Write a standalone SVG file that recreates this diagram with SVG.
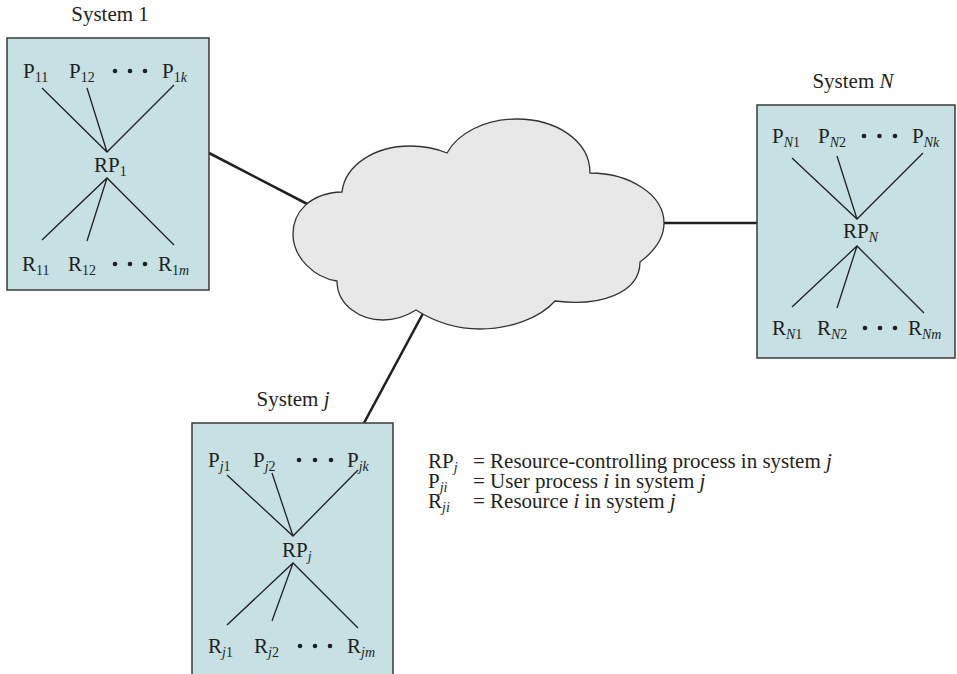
<svg xmlns="http://www.w3.org/2000/svg" width="957" height="674" viewBox="0 0 957 674">
<style>
.t { font-family: "Liberation Serif", "Times New Roman", serif; font-size: 21px; fill: #231f20; }
.sub { font-size: 14px; }
.it { font-style: italic; }
.box { fill: #c6e0e3; stroke: #3a3a3a; stroke-width: 1.5; }
.ln { stroke: #231f20; stroke-width: 1.3; fill: none; }
.conn { stroke: #231f20; stroke-width: 2.6; fill: none; }
.cloud { fill: #e8e8e8; stroke: #333333; stroke-width: 1.3; }
.dot { fill: #231f20; }
</style>
<rect width="957" height="674" fill="#ffffff"/>
<g id="connectors">
  <line class="conn" x1="209" y1="153" x2="315" y2="208"/>
  <line class="conn" x1="655" y1="223" x2="757" y2="223"/>
  <line class="conn" x1="427" y1="306" x2="364" y2="423"/>
</g>
<g id="network">
  <path class="cloud" d="M342,192 C310,193 293,212 293,234 C293,258 315,278 337,281 C337,305 360,320 383,320 C398,320 408,315 416,310 C435,322 458,329 480,329 C510,329 540,318 555,301 C600,307 640,293 640,262 C656,250 664,236 664,223 C664,195 630,173 590,173 C590,140 555,119 517,119 C485,119 458,133 447,153 C435,148 422,146 410,146 C375,146 345,165 342,192 Z"/>
</g>
<g id="system1">
  <text class="t" x="110" y="21" text-anchor="middle">System 1</text>
  <rect class="box" x="7" y="38" width="202" height="252"/>
  <text class="t" x="23" y="78">P<tspan class="sub" dy="4">11</tspan></text>
  <text class="t" x="69" y="78">P<tspan class="sub" dy="4">12</tspan></text>
  <circle class="dot" cx="115" cy="71" r="2.3"/><circle class="dot" cx="130" cy="71" r="2.3"/><circle class="dot" cx="145" cy="71" r="2.3"/>
  <text class="t" x="162" y="78">P<tspan class="sub" dy="4">1<tspan class="it">k</tspan></tspan></text>
  <path class="ln" d="M42,88 L107,152 L174,85 M87,88 L107,152"/>
  <text class="t" x="94" y="172">RP<tspan class="sub" dy="4">1</tspan></text>
  <path class="ln" d="M42,240 L107,178 L174,245 M87,241 L107,178"/>
  <text class="t" x="22" y="271">R<tspan class="sub" dy="4">11</tspan></text>
  <text class="t" x="68" y="271">R<tspan class="sub" dy="4">12</tspan></text>
  <circle class="dot" cx="115" cy="264" r="2.3"/><circle class="dot" cx="130" cy="264" r="2.3"/><circle class="dot" cx="145" cy="264" r="2.3"/>
  <text class="t" x="158" y="271">R<tspan class="sub" dy="4">1<tspan class="it">m</tspan></tspan></text>
</g>
<g id="systemN">
  <text class="t" x="853" y="88" text-anchor="middle">System <tspan class="it">N</tspan></text>
  <rect class="box" x="757" y="105" width="198" height="253"/>
  <text class="t" x="772" y="143">P<tspan class="sub" dy="4"><tspan class="it">N</tspan>1</tspan></text>
  <text class="t" x="818" y="143">P<tspan class="sub" dy="4"><tspan class="it">N</tspan>2</tspan></text>
  <circle class="dot" cx="864" cy="136" r="2.3"/><circle class="dot" cx="879.5" cy="136" r="2.3"/><circle class="dot" cx="895" cy="136" r="2.3"/>
  <text class="t" x="912" y="143">P<tspan class="sub it" dy="4">Nk</tspan></text>
  <path class="ln" d="M792,158 L857,219 L923,153 M837,156 L857,219"/>
  <text class="t" x="843" y="238">RP<tspan class="sub it" dy="4">N</tspan></text>
  <path class="ln" d="M792,307 L857,246 L924,313 M837,308 L857,246"/>
  <text class="t" x="772" y="335">R<tspan class="sub" dy="4"><tspan class="it">N</tspan>1</tspan></text>
  <text class="t" x="817" y="335">R<tspan class="sub" dy="4"><tspan class="it">N</tspan>2</tspan></text>
  <circle class="dot" cx="865" cy="328" r="2.3"/><circle class="dot" cx="880" cy="328" r="2.3"/><circle class="dot" cx="895" cy="328" r="2.3"/>
  <text class="t" x="908" y="335">R<tspan class="sub it" dy="4">Nm</tspan></text>
</g>
<g id="systemj">
  <text class="t" x="293" y="406" text-anchor="middle">System <tspan class="it">j</tspan></text>
  <rect class="box" x="192" y="423" width="201" height="260"/>
  <text class="t" x="208" y="467">P<tspan class="sub" dy="4"><tspan class="it">j</tspan>1</tspan></text>
  <text class="t" x="253" y="467">P<tspan class="sub" dy="4"><tspan class="it">j</tspan>2</tspan></text>
  <circle class="dot" cx="299" cy="460" r="2.3"/><circle class="dot" cx="315" cy="460" r="2.3"/><circle class="dot" cx="331" cy="460" r="2.3"/>
  <text class="t" x="347" y="467">P<tspan class="sub it" dy="4">jk</tspan></text>
  <path class="ln" d="M227,475 L293,536 L358,470 M272,473 L293,536"/>
  <text class="t" x="282" y="557">RP<tspan class="sub it" dy="4">j</tspan></text>
  <path class="ln" d="M227,625 L293,563 L358,628 M272,621 L293,563"/>
  <text class="t" x="208" y="653">R<tspan class="sub" dy="4"><tspan class="it">j</tspan>1</tspan></text>
  <text class="t" x="254" y="653">R<tspan class="sub" dy="4"><tspan class="it">j</tspan>2</tspan></text>
  <circle class="dot" cx="300" cy="646" r="2.3"/><circle class="dot" cx="315" cy="646" r="2.3"/><circle class="dot" cx="330" cy="646" r="2.3"/>
  <text class="t" x="347" y="653">R<tspan class="sub it" dy="4">jm</tspan></text>
</g>
<g id="legend">
  <text class="t" x="428" y="468">RP<tspan class="sub it" dy="4">j</tspan></text>
  <text class="t" x="473" y="468">= Resource-controlling process in system <tspan class="it">j</tspan></text>
  <text class="t" x="428" y="488">P<tspan class="sub it" dy="4">ji</tspan></text>
  <text class="t" x="473" y="488">= User process <tspan class="it">i</tspan> in system <tspan class="it">j</tspan></text>
  <text class="t" x="428" y="508">R<tspan class="sub it" dy="4">ji</tspan></text>
  <text class="t" x="473" y="508">= Resource <tspan class="it">i</tspan> in system <tspan class="it">j</tspan></text>
</g>
</svg>
